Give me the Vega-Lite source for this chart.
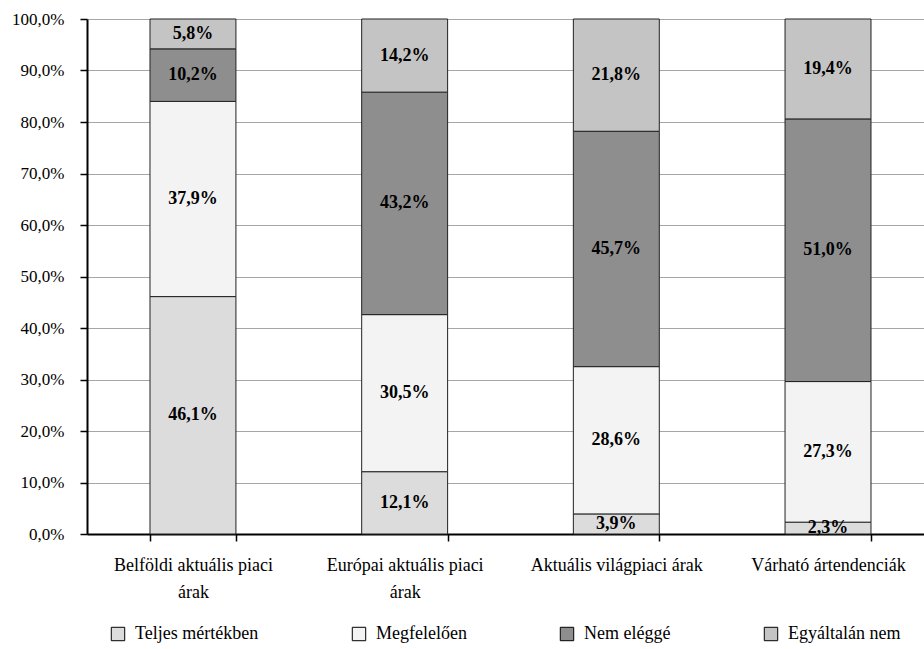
{
  "$schema": "https://vega.github.io/schema/vega-lite/v6.json",
  "autosize": "none",
  "width": 837,
  "height": 515,
  "padding": {"left": 87, "top": 19, "right": 0, "bottom": 115},
  "background": "white",
  "data": {
    "values": [
      {"cat": "Belföldi aktuális piaci árak", "resp": "Teljes mértékben", "rank": 1, "value": 0.461},
      {"cat": "Belföldi aktuális piaci árak", "resp": "Megfelelően", "rank": 2, "value": 0.379},
      {"cat": "Belföldi aktuális piaci árak", "resp": "Nem eléggé", "rank": 3, "value": 0.102},
      {"cat": "Belföldi aktuális piaci árak", "resp": "Egyáltalán nem", "rank": 4, "value": 0.058},
      {"cat": "Európai aktuális piaci árak", "resp": "Teljes mértékben", "rank": 1, "value": 0.121},
      {"cat": "Európai aktuális piaci árak", "resp": "Megfelelően", "rank": 2, "value": 0.305},
      {"cat": "Európai aktuális piaci árak", "resp": "Nem eléggé", "rank": 3, "value": 0.432},
      {"cat": "Európai aktuális piaci árak", "resp": "Egyáltalán nem", "rank": 4, "value": 0.142},
      {"cat": "Aktuális világpiaci árak", "resp": "Teljes mértékben", "rank": 1, "value": 0.039},
      {"cat": "Aktuális világpiaci árak", "resp": "Megfelelően", "rank": 2, "value": 0.286},
      {"cat": "Aktuális világpiaci árak", "resp": "Nem eléggé", "rank": 3, "value": 0.457},
      {"cat": "Aktuális világpiaci árak", "resp": "Egyáltalán nem", "rank": 4, "value": 0.218},
      {"cat": "Várható ártendenciák", "resp": "Teljes mértékben", "rank": 1, "value": 0.023},
      {"cat": "Várható ártendenciák", "resp": "Megfelelően", "rank": 2, "value": 0.273},
      {"cat": "Várható ártendenciák", "resp": "Nem eléggé", "rank": 3, "value": 0.510},
      {"cat": "Várható ártendenciák", "resp": "Egyáltalán nem", "rank": 4, "value": 0.194}
    ]
  },
  "encoding": {
    "x": {
      "field": "cat",
      "type": "nominal",
      "sort": null,
      "scale": {"paddingInner": 0.594, "paddingOuter": 0.274, "align": 0.543},
      "axis": {
        "title": null,
        "labelAngle": 0,
        "labelFont": "Liberation Serif",
        "labelFontSize": 18,
        "labelColor": "black",
        "labelPadding": 15,
        "labelLineHeight": 27,
        "labelLimit": 300,
        "labelExpr": "datum.label == 'Belföldi aktuális piaci árak' ? ['Belföldi aktuális piaci', 'árak'] : datum.label == 'Európai aktuális piaci árak' ? ['Európai aktuális piaci', 'árak'] : datum.label",
        "tickBand": "extent",
        "tickSize": 7,
        "tickColor": "black",
        "tickWidth": 1.5,
        "domainColor": "black",
        "domainWidth": 2,
        "grid": false
      }
    },
    "y": {
      "field": "value",
      "type": "quantitative",
      "stack": "zero",
      "scale": {"domain": [0, 1], "nice": false},
      "axis": {
        "title": null,
        "values": [0, 0.1, 0.2, 0.3, 0.4, 0.5, 0.6, 0.7, 0.8, 0.9, 1.0],
        "format": ".1%",
        "labelFont": "Liberation Serif",
        "labelFontSize": 17,
        "labelColor": "black",
        "labelPadding": 16,
        "tickSize": 7,
        "tickColor": "black",
        "tickWidth": 1.5,
        "domainColor": "black",
        "domainWidth": 2,
        "grid": true,
        "gridColor": "#a6a6a6",
        "gridWidth": 1
      }
    },
    "order": {"field": "rank", "type": "quantitative"}
  },
  "layer": [
    {
      "mark": {"type": "bar", "stroke": "#222222", "strokeWidth": 1},
      "encoding": {
        "color": {
          "field": "resp",
          "type": "nominal",
          "scale": {
            "domain": ["Teljes mértékben", "Megfelelően", "Nem eléggé", "Egyáltalán nem"],
            "range": ["#dcdcdc", "#f3f3f3", "#8e8e8e", "#c4c4c4"]
          },
          "legend": {
            "title": null,
            "orient": "none",
            "direction": "horizontal",
            "legendX": 22,
            "legendY": 606,
            "symbolType": "square",
            "symbolSize": 180,
            "symbolStrokeColor": "black",
            "symbolStrokeWidth": 1,
            "labelFont": "Liberation Serif",
            "labelFontSize": 18,
            "labelColor": "black",
            "labelOffset": 8,
            "labelLimit": 300,
            "columnPadding": 91
          }
        }
      }
    },
    {
      "mark": {
        "type": "text",
        "font": "Liberation Serif",
        "fontSize": 18,
        "fontWeight": "bold",
        "color": "black",
        "baseline": "middle",
        "dy": {"expr": "(scale('y', 0) - scale('y', datum.value)) / 2"}
      },
      "encoding": {
        "text": {"field": "value", "type": "quantitative", "format": ".1%"}
      }
    }
  ],
  "config": {
    "view": {"stroke": null},
    "locale": {"number": {"decimal": ",", "thousands": " ", "grouping": [3], "currency": ["", " Ft"]}}
  }
}
